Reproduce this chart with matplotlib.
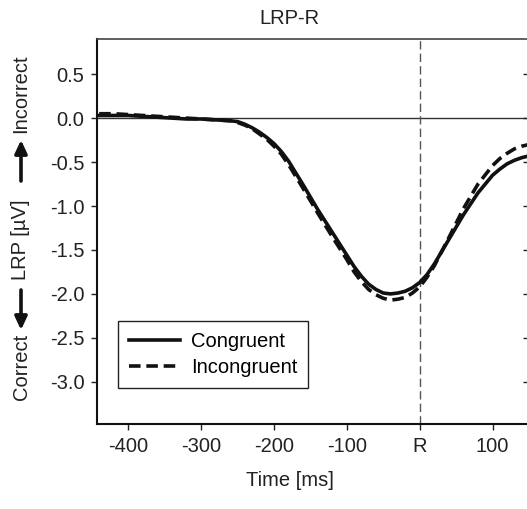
import numpy as np
import matplotlib
matplotlib.use("Agg")
import matplotlib.pyplot as plt
from matplotlib.patches import FancyArrowPatch
from matplotlib.lines import TICKLEFT

plt.rcParams["font.family"] = ["Liberation Sans", "DejaVu Sans"]
plt.rcParams["axes.unicode_minus"] = False

# time in ms relative to response (R = 0)
time_ms = [-440, -420, -400, -380, -360, -340, -320, -300, -280, -260, -250, -240, -230, -220,
           -210, -200, -190, -180, -160, -140, -120, -100, -90, -80, -70, -60, -50, -40, -30,
           -20, -10, 0, 10, 20, 40, 60, 80, 100, 110, 120, 130, 140, 150]
congruent = [0.03, 0.03, 0.03, 0.02, 0.01, 0.0, -0.01, -0.01, -0.02, -0.03, -0.04, -0.07, -0.11, -0.16,
             -0.22, -0.29, -0.38, -0.49, -0.76, -1.04, -1.30, -1.56, -1.69, -1.80, -1.89, -1.95, -1.99, -2.00, -1.99,
             -1.97, -1.93, -1.87, -1.78, -1.66, -1.38, -1.10, -0.85, -0.65, -0.58, -0.52, -0.48, -0.45, -0.43]
incongruent = [0.05, 0.05, 0.04, 0.03, 0.02, 0.01, 0.0, -0.01, -0.02, -0.03, -0.05, -0.08, -0.12, -0.18,
               -0.24, -0.32, -0.41, -0.53, -0.80, -1.08, -1.35, -1.61, -1.75, -1.86, -1.95, -2.01, -2.05, -2.07, -2.06,
               -2.04, -1.99, -1.92, -1.81, -1.68, -1.36, -1.03, -0.75, -0.54, -0.46, -0.40, -0.35, -0.32, -0.30]

xticks = [-400, -300, -200, -100, 0, 100]
xtick_labels = ["-400", "-300", "-200", "-100", "R", "100"]
yticks = [0.5, 0.0, -0.5, -1.0, -1.5, -2.0, -2.5, -3.0]
ytick_labels = ["0.5", "0.0", "-0.5", "-1.0", "-1.5", "-2.0", "-2.5", "-3.0"]

fs = 14.5
tc = "#222222"

fig = plt.figure(figsize=(5.27, 5.09), dpi=100)
ax = fig.add_axes([97/527, 85/509, 432/527, 385/509])

ax.axhline(0, color="#333333", lw=1.0, zorder=1)
ax.axvline(0, color="#555555", lw=1.0, ls=(0, (6, 3)), zorder=1)

ax.plot(time_ms, congruent, color="#111111", lw=2.6, label="Congruent", zorder=3)
ax.plot(time_ms, incongruent, color="#111111", lw=2.6, ls=(0, (3.2, 1.6)), label="Incongruent", zorder=3)

ax.set_xlim(-443, 150)
ax.set_ylim(-3.48, 0.9)
ax.set_xticks(xticks)
ax.set_xticklabels(xtick_labels)
ax.set_yticks(yticks)
ax.set_yticklabels(ytick_labels)
ax.tick_params(axis="both", labelsize=fs, length=4, width=1, color=tc, labelcolor=tc, pad=5)
ax.tick_params(axis="y", right=True)
for t in ax.yaxis.get_major_ticks():
    t.tick2line.set_marker(TICKLEFT)

for side in ["left", "bottom"]:
    ax.spines[side].set_linewidth(1.5)
    ax.spines[side].set_color("#111111")
ax.spines["top"].set_linewidth(1.2)
ax.spines["top"].set_color("#444444")
ax.spines["right"].set_visible(False)

leg = ax.legend(loc="lower left", bbox_to_anchor=(0.049, 0.094), borderaxespad=0,
                fontsize=fs, handlelength=2.5, handletextpad=0.55, fancybox=False, framealpha=1,
                edgecolor=tc, borderpad=0.55, labelspacing=0.35)
leg.get_frame().set_linewidth(1.0)

fig.text(289/527, 1 - 18/509, "LRP-R", ha="center", va="center", fontsize=fs, color=tc)
fig.text(290/527, 1 - 481/509, "Time [ms]", ha="center", va="center", fontsize=fs, color=tc)

# y-axis label with direction arrows
lx = 21/527
fig.text(lx, 1 - 367/509, "Correct", rotation=90, ha="center", va="center", fontsize=fs, color=tc)
fig.text(lx, 1 - 240/509, "LRP [\u00b5V]", rotation=90, ha="center", va="center", fontsize=fs, color=tc)
fig.text(lx, 1 - 94/509, "Incorrect", rotation=90, ha="center", va="center", fontsize=fs, color=tc)
arrow_kw = dict(arrowstyle="-|>,head_length=0.6,head_width=0.28", color="#111111", lw=2.6,
                mutation_scale=13, shrinkA=0, shrinkB=0, transform=fig.transFigure)
fig.add_artist(FancyArrowPatch((lx, 1 - 290/509), (lx, 1 - 330/509), **arrow_kw))
fig.add_artist(FancyArrowPatch((lx, 1 - 181/509), (lx, 1 - 140/509), **arrow_kw))

fig.savefig("out.png", dpi=100)
